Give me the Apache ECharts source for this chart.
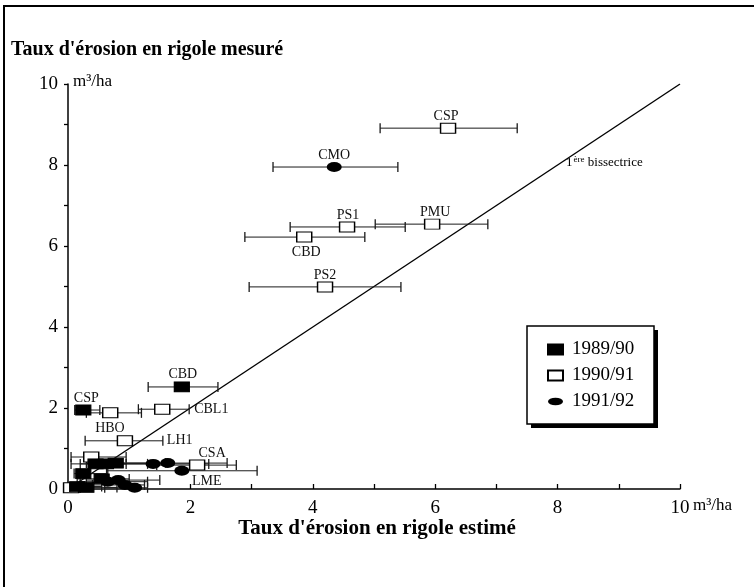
<!DOCTYPE html>
<html><head><meta charset="utf-8">
<script src="https://cdn.jsdelivr.net/npm/echarts@6/dist/echarts.min.js"></script>
<style>html,body{margin:0;padding:0;background:#fff}#c{width:754px;height:587px}</style>
</head><body><div id="c"></div>
<script>
// ---- data ----
const seriesNames = ['1989/90', '1990/91', '1991/92'];
// 1989/90 (filled squares)
const a_names = ['CSP', 'CBD', '', '', '', '', '', '', ''];
const a_x  = [0.25, 1.86, 0.45, 0.62, 0.78, 0.25, 0.55, 0.15, 0.30];
const a_y  = [1.95, 2.52, 0.62, 0.62, 0.64, 0.38, 0.25, 0.06, 0.04];
const a_lo = [0.11, 1.31, 0.05, 0.20, 0.30, 0.10, 0.15, 0.00, 0.05];
const a_hi = [0.52, 2.45, 0.95, 1.30, 1.60, 0.65, 1.00, 0.55, 0.80];
// 1990/91 (open squares)
const b_names = ['CSP', 'PS1', 'PMU', 'CBD', 'PS2', 'CBL1', '', 'HBO', '', 'CSA', ''];
const b_x  = [6.21, 4.56, 5.95, 3.86, 4.20, 1.54, 0.69, 0.93, 0.38, 2.11, 0.05];
const b_y  = [8.91, 6.47, 6.54, 6.22, 4.99, 1.97, 1.88, 1.19, 0.79, 0.59, 0.03];
const b_lo = [5.10, 3.63, 5.02, 2.89, 2.96, 1.15, 0.30, 0.28, 0.05, 1.45, 0.00];
const b_hi = [7.34, 5.51, 6.86, 4.85, 5.44, 1.98, 1.20, 1.55, 0.95, 2.75, 0.20];
const b_extra = ['', '', '', '', '', '', '', 'LH1', '', '', ''];
// 1991/92 (filled ellipses)
const c_names = ['CMO', '', '', 'LME', '', '', '', ''];
const c_x  = [4.35, 1.39, 1.63, 1.86, 0.65, 0.82, 0.93, 1.09];
const c_y  = [7.95, 0.62, 0.64, 0.45, 0.18, 0.22, 0.10, 0.03];
const c_lo = [3.35, 0.55, 0.75, 0.63, 0.20, 0.30, 0.40, 0.60];
const c_hi = [5.39, 2.30, 2.60, 3.09, 1.30, 1.50, 1.25, 1.30];
// first bisector
const bissX = [0, 10];
const bissY = [0, 10];
const xTicks = [0, 2, 4, 6, 8, 10];
const yTicks = [0, 2, 4, 6, 8, 10];

// ---- styles ----
const SERIF = '"Liberation Serif", "Times New Roman", "DejaVu Serif", serif';
const labelPlace = {
  '1989/90|CSP': {anchor: 'point', dx: 3, dy: -12, align: 'center'},
  '1989/90|CBD': {anchor: 'point', dx: 1, dy: -13, align: 'center'},
  '1990/91|CSP': {anchor: 'point', dx: -2, dy: -12, align: 'center'},
  '1990/91|PS1': {anchor: 'point', dx: 1, dy: -12, align: 'center'},
  '1990/91|PMU': {anchor: 'point', dx: 3, dy: -12, align: 'center'},
  '1990/91|CBD': {anchor: 'point', dx: 2, dy: 15, align: 'center'},
  '1990/91|PS2': {anchor: 'point', dx: 0, dy: -12, align: 'center'},
  '1990/91|CBL1': {anchor: 'barEnd', dx: 5, dy: 0, align: 'left'},
  '1990/91|HBO': {anchor: 'point', dx: -15, dy: -12, align: 'center'},
  '1990/91|LH1': {anchor: 'barEnd', dx: 4, dy: 0, align: 'left'},
  '1990/91|CSA': {anchor: 'point', dx: 15, dy: -12, align: 'center'},
  '1991/92|CMO': {anchor: 'point', dx: 0, dy: -12, align: 'center'},
  '1991/92|LME': {anchor: 'point', dx: 25, dy: 11, align: 'center'}
};

function barSeries(sname, names, extra, xs, ys, los, his) {
  return {
    type: 'custom', name: 'bars ' + sname, z: 2, silent: true, clip: false,
    data: xs.map((x, i) => [x, ys[i], los[i], his[i]]),
    encode: {x: [0, 2, 3], y: 1},
    renderItem: function (params, api) {
      const i = params.dataIndex;
      const y = api.value(1);
      const p0 = api.coord([api.value(2), y]);
      const p1 = api.coord([api.value(3), y]);
      const pc = api.coord([api.value(0), y]);
      const h = 5;
      const st = {stroke: '#1a1a1a', lineWidth: 1};
      const children = [
        {type: 'line', shape: {x1: p0[0], y1: p0[1], x2: p1[0], y2: p1[1]}, style: st},
        {type: 'line', shape: {x1: p0[0], y1: p0[1] - h, x2: p0[0], y2: p0[1] + h}, style: {stroke: '#1a1a1a', lineWidth: 1.3}},
        {type: 'line', shape: {x1: p1[0], y1: p1[1] - h, x2: p1[0], y2: p1[1] + h}, style: {stroke: '#1a1a1a', lineWidth: 1.3}}
      ];
      [names[i], extra ? extra[i] : ''].forEach(function (nm) {
        if (!nm) return;
        const pl = labelPlace[sname + '|' + nm] || {anchor: 'point', dx: 0, dy: -12, align: 'center'};
        const ax = pl.anchor === 'barEnd' ? p1[0] : pc[0];
        children.push({
          type: 'text', x: ax + pl.dx, y: pc[1] + pl.dy,
          style: {text: nm, font: '14px ' + SERIF, fill: '#111', align: pl.align, verticalAlign: 'middle'}
        });
      });
      return {type: 'group', children: children};
    }
  };
}

function pts(xs, ys) { return xs.map((x, i) => [x, ys[i]]); }

const chart = echarts.init(document.getElementById('c'), null, {renderer: 'canvas'});
chart.setOption({
  backgroundColor: '#fff',
  animation: false,
  grid: {left: 68, right: 74, top: 84, bottom: 98},
  xAxis: {
    type: 'value', min: 0, max: 10, interval: 1,
    axisLine: {lineStyle: {color: '#000', width: 1.5}},
    axisTick: {inside: true, length: 5, lineStyle: {color: '#000', width: 1.3}},
    splitLine: {show: false},
    axisLabel: {
      color: '#000', fontFamily: SERIF, fontSize: 19, margin: 10,
      formatter: v => xTicks.indexOf(v) >= 0 ? String(v) : ''
    }
  },
  yAxis: {
    type: 'value', min: 0, max: 10, interval: 1,
    axisLine: {lineStyle: {color: '#000', width: 1.5}},
    axisTick: {inside: false, length: 4, lineStyle: {color: '#000', width: 1.3}},
    splitLine: {show: false},
    axisLabel: {
      color: '#000', fontFamily: SERIF, fontSize: 19, margin: 10,
      formatter: v => yTicks.indexOf(v) >= 0 ? String(v) : ''
    }
  },
  legend: {
    left: 527, top: 326, orient: 'vertical', z: 10,
    data: seriesNames,
    itemWidth: 15, itemHeight: 10, itemGap: 7,
    padding: [14, 22, 14, 20],
    backgroundColor: 'transparent', borderWidth: 0,
    textStyle: {color: '#000', fontFamily: SERIF, fontSize: 19, padding: [0, 0, 0, 4]},
    selectedMode: false
  },
  series: [
    {
      type: 'line', name: 'bissectrice', data: pts(bissX, bissY), z: 1, silent: true,
      symbol: 'none', lineStyle: {color: '#000', width: 1.4}
    },
    barSeries('1989/90', a_names, null, a_x, a_y, a_lo, a_hi),
    barSeries('1990/91', b_names, b_extra, b_x, b_y, b_lo, b_hi),
    barSeries('1991/92', c_names, null, c_x, c_y, c_lo, c_hi),
    {
      type: 'scatter', name: '1989/90', data: pts(a_x, a_y), z: 5,
      symbol: 'rect', symbolSize: [15, 10],
      itemStyle: {color: '#000', borderColor: '#000', borderWidth: 1, opacity: 1}
    },
    {
      type: 'scatter', name: '1990/91', data: pts(b_x, b_y), z: 4,
      symbol: 'rect', symbolSize: [15, 10],
      itemStyle: {color: '#fff', borderColor: '#000', borderWidth: 1.2, opacity: 1}
    },
    {
      type: 'scatter', name: '1991/92', data: pts(c_x, c_y), z: 5,
      symbol: 'path://M0 5A10 5 0 1 1 20 5A10 5 0 1 1 0 5Z', symbolSize: [15, 10],
      itemStyle: {color: '#000', opacity: 1}
    }
  ],
  graphic: [
    {type: 'rect', shape: {x: 4, y: 6, width: 770, height: 600}, style: {fill: 'none', stroke: '#000', lineWidth: 2}, silent: true},
    {type: 'rect', z: 5, shape: {x: 531, y: 330, width: 127, height: 98}, style: {fill: '#000'}, silent: true},
    {type: 'rect', z: 6, shape: {x: 527, y: 326, width: 127, height: 98}, style: {fill: '#fff', stroke: '#000', lineWidth: 1.5}, silent: true},
    {type: 'text', left: 11, top: 40, style: {text: "Taux d'érosion en rigole mesuré", font: 'bold 20px ' + SERIF, fill: '#000'}},
    {type: 'text', left: 73, top: 73, style: {text: 'm³/ha', font: '17px ' + SERIF, fill: '#000'}},
    {type: 'text', left: 693, top: 497, style: {text: 'm³/ha', font: '17px ' + SERIF, fill: '#000'}},
    {type: 'text', left: 'center', top: 518, style: {text: "Taux d'érosion en rigole estimé", font: 'bold 21px ' + SERIF, fill: '#000'}},
    {type: 'text', left: 566, top: 155, style: {
      text: '{a|1}{s|ère} {a|bissectrice}',
      rich: {a: {font: '13px ' + SERIF, fill: '#000'}, s: {font: '9px ' + SERIF, fill: '#000', verticalAlign: 'top', padding: [0, 0, 6, 1]}}
    }}
  ]
});
</script></body></html>
